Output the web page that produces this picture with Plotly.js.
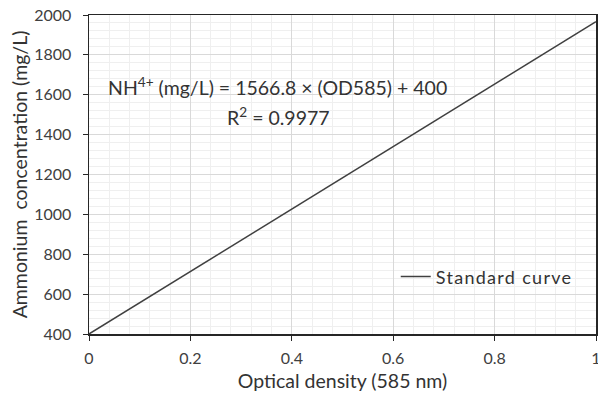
<!DOCTYPE html>
<html>
<head>
<meta charset="utf-8">
<script src="https://cdn.plot.ly/plotly-3.0.1.min.js"></script>
<style>html,body{margin:0;padding:0;background:#fff;}#chart{width:598px;height:399px;}
.legendtext{letter-spacing:1.3px;}</style>
</head>
<body>
<div id="chart"></div>
<script>
// Data
const odValues = [0, 1];
const ammoniumValues = [400, 1966.8];
const seriesName = "Standard curve";
const xTickVals = [0, 0.2, 0.4, 0.6, 0.8, 1];
const xTickText = ["0", "0.2", "0.4", "0.6", "0.8", "1"];
const yTickVals = [400, 600, 800, 1000, 1200, 1400, 1600, 1800, 2000];
const equationText = "NH<sup>4+</sup> (mg/L) = 1566.8 × (OD585) + 400";
const r2Text = "R<sup>2</sup> = 0.9977";

const font = "Lato, 'Liberation Sans', sans-serif";

const trace = {
  x: odValues,
  y: ammoniumValues,
  type: "scatter",
  mode: "lines",
  name: seriesName,
  line: {color: "#404040", width: 1.5}
};

const layout = {
  width: 598,
  height: 399,
  margin: {l: 89, r: 2, t: 15, b: 65},
  paper_bgcolor: "#ffffff",
  plot_bgcolor: "#ffffff",
  font: {family: font, color: "#333333", size: 16},
  showlegend: true,
  legend: {
    x: 0.605, y: 0.179, xanchor: "left", yanchor: "middle",
    bgcolor: "rgba(0,0,0,0)",
    font: {family: font, size: 18, color: "#333333"}
  },
  xaxis: {
    range: [0, 1],
    tickvals: xTickVals,
    ticktext: xTickText,
    ticks: "outside",
    ticklen: 5,
    tickcolor: "#262626",
    ticklabeloverflow: "allow",
    ticklabelstandoff: 4,
    showline: true,
    linecolor: "#262626",
    linewidth: 1.5,
    mirror: true,
    showgrid: true,
    gridcolor: "#d9d9d9",
    gridwidth: 1,
    zeroline: false,
    minor: {dtick: 0.04, showgrid: true, gridcolor: "#efefef", gridwidth: 1},
    tickfont: {family: font, size: 16, color: "#404040"},
    title: {text: "Optical density (585 nm)", font: {family: font, size: 19.5, color: "#333333"}, standoff: 8}
  },
  yaxis: {
    range: [400, 2000],
    tickvals: yTickVals,
    ticks: "outside",
    ticklen: 5,
    tickcolor: "#262626",
    ticklabelstandoff: 8,
    showline: true,
    linecolor: "#262626",
    linewidth: 1.5,
    mirror: true,
    showgrid: true,
    gridcolor: "#d9d9d9",
    gridwidth: 1,
    zeroline: false,
    minor: {dtick: 40, showgrid: true, gridcolor: "#efefef", gridwidth: 1},
    tickfont: {family: font, size: 16, color: "#404040"},
    title: {text: "Ammonium  concentration (mg/L)", font: {family: font, size: 19.5, color: "#333333"}, standoff: 1}
  },
  annotations: [
    {
      text: equationText, xref: "paper", yref: "paper",
      x: (277 - 89) / 507, y: (334 - 86) / 319, xanchor: "center", yanchor: "middle",
      showarrow: false, font: {family: font, size: 19.5, color: "#333333"}
    },
    {
      text: r2Text, xref: "paper", yref: "paper",
      x: (278 - 89) / 507, y: (334 - 116) / 319, xanchor: "center", yanchor: "middle",
      showarrow: false, font: {family: font, size: 19.5, color: "#333333"}
    }
  ]
};

Plotly.newPlot("chart", [trace], layout, {displayModeBar: false, staticPlot: true});
</script>
</body>
</html>
